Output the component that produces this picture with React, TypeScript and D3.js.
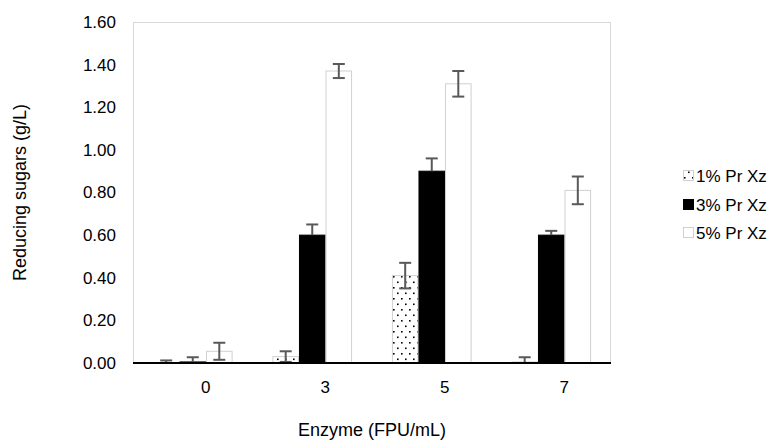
import React from "react";
import * as d3 from "d3";

// enzyme loading (FPU/mL)
const categories = ["0", "3", "5", "7"];
const seriesNames = ["1% Pr Xz", "3% Pr Xz", "5% Pr Xz"];

// reducing sugars (g/L) and their error bars
const pr1 = [0.002, 0.03, 0.41, 0.005];
const pr1Err = [0.01, 0.025, 0.06, 0.022];
const pr3 = [0.005, 0.6, 0.9, 0.6];
const pr3Err = [0.022, 0.05, 0.06, 0.02];
const pr5 = [0.055, 1.37, 1.31, 0.81];
const pr5Err = [0.04, 0.033, 0.06, 0.065];

const yTicks = [0, 0.2, 0.4, 0.6, 0.8, 1.0, 1.2, 1.4, 1.6];

const W = 769;
const H = 442;
const margin = { top: 22, right: 158, bottom: 79, left: 133 };
const font = "'Liberation Sans', Arial, sans-serif";

export default function App() {
  const x = d3
    .scaleBand()
    .domain(categories)
    .range([margin.left, W - margin.right]);
  const inner = d3
    .scaleBand()
    .domain(seriesNames)
    .range([0, x.bandwidth()])
    .paddingOuter(0.75);
  const y = d3
    .scaleLinear()
    .domain([0, 1.6])
    .range([H - margin.bottom, margin.top]);

  const values = [pr1, pr3, pr5];
  const errors = [pr1Err, pr3Err, pr5Err];
  const fills = ["url(#dots)", "#000", "#fff"];
  const strokes = ["#d0d0d0", "#000", "#d0d0d0"];
  // black bars only show the upper half of the error bar
  const plusOnly = [false, true, false];

  const x0 = margin.left;
  const x1 = W - margin.right;
  const yBottom = y(0);

  // category labels sit a bit right of the band centre in the original
  const labelShift = 13;

  const legendX = 683;
  const legendY = [176, 205, 233];

  return (
    <svg
      width={W}
      height={H}
      style={{ position: "absolute", left: 0, top: 0, background: "#fff" }}
      fontFamily={font}
    >
      <defs>
        <pattern id="dots" width={8} height={11} patternUnits="userSpaceOnUse">
          <rect width={8} height={11} fill="#fff" />
          <rect x={1} y={1} width={1.6} height={1.6} fill="#000" />
          <rect x={5} y={6.5} width={1.6} height={1.6} fill="#000" />
        </pattern>
      </defs>

      {/* plot frame */}
      <rect
        x={x0 + 0.5}
        y={margin.top + 0.5}
        width={x1 - x0 - 1}
        height={yBottom - margin.top}
        fill="none"
        stroke="#d9d9d9"
      />

      {/* y tick labels */}
      {yTicks.map((t) => (
        <text
          key={t}
          x={116}
          y={y(t)}
          dy="0.35em"
          textAnchor="end"
          fontSize={17}
          fill="#000"
        >
          {d3.format(".2f")(t)}
        </text>
      ))}

      {/* bars */}
      {values.map((vals, s) =>
        categories.map((c, i) => {
          const bx = (x(c) ?? 0) + (inner(seriesNames[s]) ?? 0);
          const h = yBottom - y(vals[i]);
          return (
            <rect
              key={`${s}-${c}`}
              x={bx + 0.5}
              y={y(vals[i])}
              width={inner.bandwidth() - 1}
              height={h}
              fill={fills[s]}
              stroke={strokes[s]}
              strokeWidth={1}
            />
          );
        })
      )}

      {/* error bars */}
      {values.map((vals, s) =>
        categories.map((c, i) => {
          const cx = (x(c) ?? 0) + (inner(seriesNames[s]) ?? 0) + inner.bandwidth() / 2;
          const top = y(vals[i] + errors[s][i]);
          const bot = plusOnly[s] ? y(vals[i]) : Math.min(yBottom, y(vals[i] - errors[s][i]));
          return (
            <g key={`e${s}-${c}`} stroke="#595959" strokeWidth={2}>
              <line x1={cx} x2={cx} y1={top} y2={bot} />
              <line x1={cx - 6} x2={cx + 6} y1={top} y2={top} />
              {!plusOnly[s] && <line x1={cx - 6} x2={cx + 6} y1={bot} y2={bot} />}
            </g>
          );
        })
      )}

      {/* x axis */}
      <line x1={x0} x2={x1} y1={yBottom} y2={yBottom} stroke="#000" strokeWidth={2} />
      {categories.map((c) => (
        <text
          key={c}
          x={(x(c) ?? 0) + x.bandwidth() / 2 + labelShift}
          y={393}
          textAnchor="middle"
          fontSize={17}
        >
          {c}
        </text>
      ))}

      {/* axis titles */}
      <text
        transform={`translate(26,${(margin.top + yBottom) / 2}) rotate(-90)`}
        textAnchor="middle"
        fontSize={18}
      >
        Reducing sugars (g/L)
      </text>
      <text x={(x0 + x1) / 2} y={436} textAnchor="middle" fontSize={18}>
        Enzyme (FPU/mL)
      </text>

      {/* legend */}
      {seriesNames.map((name, s) => (
        <g key={name} transform={`translate(${legendX},${legendY[s]})`}>
          <rect
            x={0.5}
            y={-5.5}
            width={10}
            height={10}
            fill={fills[s]}
            stroke={strokes[s]}
          />
          <text x={13} y={0} dy="0.35em" fontSize={17}>
            {name}
          </text>
        </g>
      ))}
    </svg>
  );
}
